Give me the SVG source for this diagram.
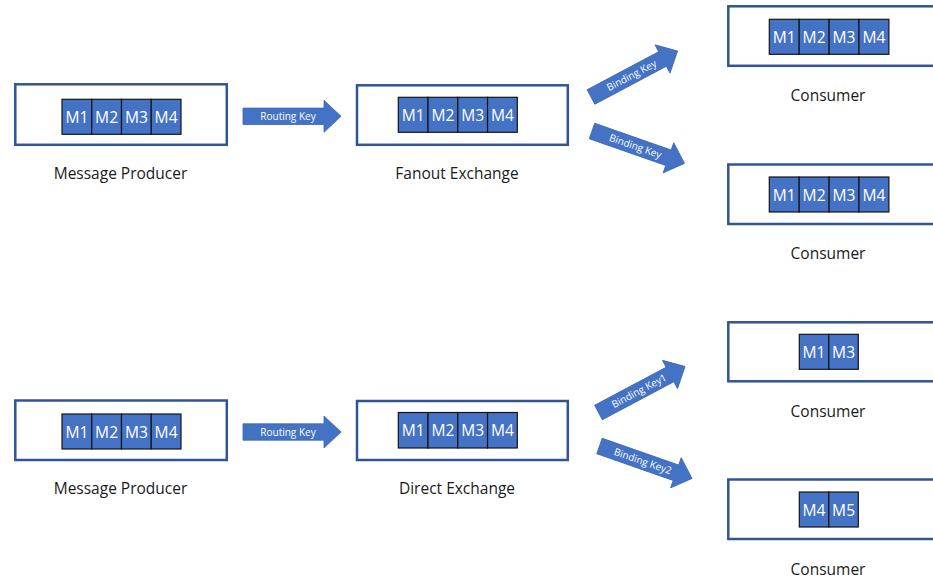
<svg xmlns="http://www.w3.org/2000/svg" width="933" height="581" viewBox="0 0 933 581" xmlns:xlink="http://www.w3.org/1999/xlink">
<style>
.box{fill:#fff;stroke:#2F5597;stroke-width:2.5}
.cell{fill:#4472C4;stroke:#141414;stroke-width:1.2}
.ct{font-family:"Open Sans","Liberation Sans",sans-serif;font-size:15.6px;fill:#fff;text-anchor:middle}
.lbl{font-family:"Open Sans","Liberation Sans",sans-serif;font-size:15.5px;fill:#1a1a1a;text-anchor:middle}
.arr{fill:#4472C4;stroke:#3B65B0;stroke-width:0.8}
.at{font-family:"Open Sans","Liberation Sans",sans-serif;font-size:10px;fill:#fff;text-anchor:middle}
</style>
<defs>
<path id="arrow" d="M0,-8.2 L81,-8.2 L81,-16 L98,0 L81,16 L81,8.2 L0,8.2 Z"/>
</defs>
<rect width="933" height="581" fill="#fff"/>

<g id="producer-top">
<rect class="box" x="15.3" y="84.3" width="211.5" height="60.5"/>
<rect class="cell" x="62" y="99.3" width="29.75" height="35"/>
<rect class="cell" x="91.75" y="99.3" width="29.75" height="35"/>
<rect class="cell" x="121.5" y="99.3" width="29.75" height="35"/>
<rect class="cell" x="151.25" y="99.3" width="29.75" height="35"/>
<text class="ct" x="76.9" y="122.8">M1</text>
<text class="ct" x="106.6" y="122.8">M2</text>
<text class="ct" x="136.4" y="122.8">M3</text>
<text class="ct" x="166.1" y="122.8">M4</text>
<text class="lbl" x="120.5" y="179.3">Message Producer</text>
</g>

<g id="fanout-exchange">
<rect class="box" x="357" y="85.3" width="210.8" height="59.5"/>
<rect class="cell" x="398.3" y="97.3" width="29.75" height="35"/>
<rect class="cell" x="428.05" y="97.3" width="29.75" height="35"/>
<rect class="cell" x="457.8" y="97.3" width="29.75" height="35"/>
<rect class="cell" x="487.55" y="97.3" width="29.75" height="35"/>
<text class="ct" x="413.2" y="120.8">M1</text>
<text class="ct" x="442.9" y="120.8">M2</text>
<text class="ct" x="472.7" y="120.8">M3</text>
<text class="ct" x="502.4" y="120.8">M4</text>
<text class="lbl" x="457" y="179.3">Fanout Exchange</text>
</g>

<g id="consumer-1">
<rect class="box" x="728.3" y="6.3" width="230" height="59.5"/>
<rect class="cell" x="769.3" y="19.3" width="29.9" height="35"/>
<rect class="cell" x="799.2" y="19.3" width="29.9" height="35"/>
<rect class="cell" x="829.1" y="19.3" width="29.9" height="35"/>
<rect class="cell" x="859" y="19.3" width="29.9" height="35"/>
<text class="ct" x="784.2" y="42.8">M1</text>
<text class="ct" x="814.1" y="42.8">M2</text>
<text class="ct" x="844" y="42.8">M3</text>
<text class="ct" x="873.9" y="42.8">M4</text>
<text class="lbl" x="828" y="100.6">Consumer</text>
</g>

<g id="consumer-2">
<rect class="box" x="728.3" y="164.5" width="230" height="59.5"/>
<rect class="cell" x="769.3" y="177" width="29.9" height="35"/>
<rect class="cell" x="799.2" y="177" width="29.9" height="35"/>
<rect class="cell" x="829.1" y="177" width="29.9" height="35"/>
<rect class="cell" x="859" y="177" width="29.9" height="35"/>
<text class="ct" x="784.2" y="200.5">M1</text>
<text class="ct" x="814.1" y="200.5">M2</text>
<text class="ct" x="844" y="200.5">M3</text>
<text class="ct" x="873.9" y="200.5">M4</text>
<text class="lbl" x="828" y="258.6">Consumer</text>
</g>

<g id="producer-bottom">
<rect class="box" x="15.3" y="400.5" width="211.5" height="59.5"/>
<rect class="cell" x="62" y="414" width="29.75" height="35"/>
<rect class="cell" x="91.75" y="414" width="29.75" height="35"/>
<rect class="cell" x="121.5" y="414" width="29.75" height="35"/>
<rect class="cell" x="151.25" y="414" width="29.75" height="35"/>
<text class="ct" x="76.9" y="437.5">M1</text>
<text class="ct" x="106.6" y="437.5">M2</text>
<text class="ct" x="136.4" y="437.5">M3</text>
<text class="ct" x="166.1" y="437.5">M4</text>
<text class="lbl" x="120.5" y="494.3">Message Producer</text>
</g>

<g id="direct-exchange">
<rect class="box" x="357" y="401" width="210.8" height="59"/>
<rect class="cell" x="398.3" y="412.5" width="29.75" height="35.5"/>
<rect class="cell" x="428.05" y="412.5" width="29.75" height="35.5"/>
<rect class="cell" x="457.8" y="412.5" width="29.75" height="35.5"/>
<rect class="cell" x="487.55" y="412.5" width="29.75" height="35.5"/>
<text class="ct" x="413.2" y="436.2">M1</text>
<text class="ct" x="442.9" y="436.2">M2</text>
<text class="ct" x="472.7" y="436.2">M3</text>
<text class="ct" x="502.4" y="436.2">M4</text>
<text class="lbl" x="457" y="494.3">Direct Exchange</text>
</g>

<g id="consumer-3">
<rect class="box" x="728.3" y="322.3" width="230" height="59"/>
<rect class="cell" x="799.3" y="334.3" width="29.5" height="35"/>
<rect class="cell" x="828.8" y="334.3" width="29.5" height="35"/>
<text class="ct" x="814" y="357.8">M1</text>
<text class="ct" x="843.6" y="357.8">M3</text>
<text class="lbl" x="828" y="416.6">Consumer</text>
</g>

<g id="consumer-4">
<rect class="box" x="728.3" y="479.5" width="230" height="59.5"/>
<rect class="cell" x="799.3" y="492" width="29.5" height="35"/>
<rect class="cell" x="828.8" y="492" width="29.5" height="35"/>
<text class="ct" x="814" y="515.5">M4</text>
<text class="ct" x="843.6" y="515.5">M5</text>
<text class="lbl" x="828" y="575">Consumer</text>
</g>

<g id="connectors">
<g transform="translate(243,116.3)">
<use xlink:href="#arrow" href="#arrow" class="arr"/>
<text class="at" x="45" y="3.5">Routing Key</text>
</g>
<g transform="translate(591,97) rotate(-28)">
<use xlink:href="#arrow" href="#arrow" class="arr"/>
<text class="at" x="46" y="3.5" font-size="10.5">Binding Key</text>
</g>
<g transform="translate(592,131) rotate(19.3)">
<use xlink:href="#arrow" href="#arrow" class="arr"/>
<text class="at" x="46" y="3.5" font-size="10.5">Binding Key</text>
</g>
<g transform="translate(243,432)">
<use xlink:href="#arrow" href="#arrow" class="arr"/>
<text class="at" x="45" y="3.5">Routing Key</text>
</g>
<g transform="translate(598.5,412.5) rotate(-28)">
<use xlink:href="#arrow" href="#arrow" class="arr"/>
<text class="at" x="46" y="3.5" font-size="10.5">Binding Key1</text>
</g>
<g transform="translate(599.5,446) rotate(19.3)">
<use xlink:href="#arrow" href="#arrow" class="arr"/>
<text class="at" x="46" y="3.5" font-size="10.5">Binding Key2</text>
</g>
</g>
</svg>
